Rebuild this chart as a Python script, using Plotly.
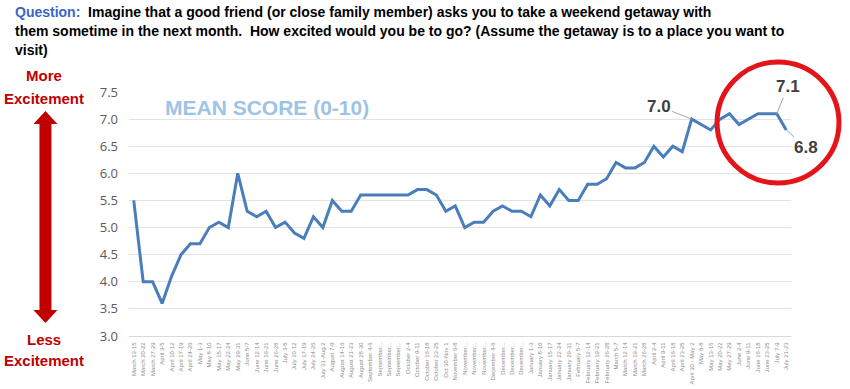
import plotly.graph_objects as go

weeks = ["March 13-15", "March 20-22", "March 27-29", "April 3-5", "April 10-12", "April 17-19",
         "April 24-26", "May 1-3", "May 8-10", "May 15-17", "May 22-24", "May 29-31", "June 5-7",
         "June 12-14", "June 19-21", "June 26-28", "July 3-5", "July 10-12", "July 17-19",
         "July 24-26", "July 31-Aug 2", "August 7-9", "August 14-16", "August 21-23",
         "August 28-30", "September 4-6", "September...", "September...", "September...",
         "October 2-4", "October 9-11", "October 16-18", "October 23-25", "Oct 30-Nov 1",
         "November 6-8", "November...", "November...", "November...", "December 4-6",
         "December...", "December...", "December...", "January 1-3", "January 8-10",
         "January 15-17", "January 22-24", "January 29-31", "February 5-7", "February 12-14",
         "February 19-21", "February 26-28", "March 5-7", "March 12-14", "March 19-21",
         "March 26-28", "April 2-4", "April 9-11", "April 16-18", "April 23-25",
         "April 30 - May 2", "May 6-8", "May 13-15", "May 20-22", "May 27-29", "June 2-4",
         "June 9-11", "June 16-18", "June 23-25", "July 7-9", "July 21-23"]

mean_score = [5.5, 4.0, 4.0, 3.6, 4.1, 4.5, 4.7, 4.7, 5.0, 5.1,
              5.0, 6.0, 5.3, 5.2, 5.3, 5.0, 5.1, 4.9, 4.8, 5.2,
              5.0, 5.5, 5.3, 5.3, 5.6, 5.6, 5.6, 5.6, 5.6, 5.6,
              5.7, 5.7, 5.6, 5.3, 5.4, 5.0, 5.1, 5.1, 5.3, 5.4,
              5.3, 5.3, 5.2, 5.6, 5.4, 5.7, 5.5, 5.5, 5.8, 5.8,
              5.9, 6.2, 6.1, 6.1, 6.2, 6.5, 6.3, 6.5, 6.4, 7.0,
              6.9, 6.8, 7.0, 7.1, 6.9, 7.0, 7.1, 7.1, 7.1, 6.8]

y_ticks = [3.0, 3.5, 4.0, 4.5, 5.0, 5.5, 6.0, 6.5, 7.0, 7.5]

# labelled points: (index, text offset x, text offset y in px)
labelled = [(59, -33, -13), (68, 11, -27), (69, 20, 18)]

W, H = 850, 389
L, R, T, B = 128.6, 59, 92, 53
PW, PH = W - L - R, H - T - B


def px(xp):
    return (xp - L) / PW


def py(yp):
    return (H - B - yp) / PH


x_idx = list(range(len(weeks)))

fig = go.Figure()
fig.add_trace(go.Scatter(
    x=x_idx, y=mean_score, mode="lines",
    line=dict(color="#4a7ebb", width=3),
    hoverinfo="skip", showlegend=False,
))

annotations = []
for i, ax, ay in labelled:
    annotations.append(dict(
        x=x_idx[i], y=mean_score[i], xref="x", yref="y",
        text=f"{mean_score[i]:.1f}", showarrow=True, arrowhead=0,
        arrowwidth=1, arrowcolor="#a6a6a6", ax=ax, ay=ay, standoff=0,
        font=dict(family="Liberation Sans", size=17, color="#404040", weight="bold"),
    ))

title_font = dict(family="Liberation Sans", size=14, color="#000000", weight="bold")
annotations += [
    dict(x=px(13), y=py(12), xref="paper", yref="paper", xanchor="left", yanchor="middle",
         showarrow=False, font=title_font,
         text="<span style='color:#3a66c4'>Question:</span>&nbsp; Imagine that a good friend (or close family member) asks you to take a weekend getaway with"),
    dict(x=px(13), y=py(31), xref="paper", yref="paper", xanchor="left", yanchor="middle",
         showarrow=False, font=title_font,
         text="them sometime in the next month.&nbsp; How excited would you be to go? (Assume the getaway is to a place you want to"),
    dict(x=px(13), y=py(50), xref="paper", yref="paper", xanchor="left", yanchor="middle",
         showarrow=False, font=title_font, text="visit)"),
    dict(x=px(163), y=py(108), xref="paper", yref="paper", xanchor="left", yanchor="middle",
         showarrow=False, text="MEAN SCORE (0-10)",
         font=dict(family="Liberation Sans", size=21, color="#9dc3e6", weight="bold")),
]
red_font = dict(family="Liberation Sans", size=15, color="#c00000", weight="bold")
for txt, yp in [("More", 76), ("Excitement", 98), ("Less", 339), ("Excitement", 360)]:
    annotations.append(dict(x=px(44), y=py(yp), xref="paper", yref="paper",
                            xanchor="center", yanchor="middle", showarrow=False,
                            text=txt, font=red_font))

# double-headed arrow (pixel geometry -> paper)
cx, top, bot, hh, hw, sw = 45, 111, 323, 13, 12, 6
pts = [(cx, top), (cx + hw, top + hh), (cx + sw, top + hh), (cx + sw, bot - hh),
       (cx + hw, bot - hh), (cx, bot), (cx - hw, bot - hh), (cx - sw, bot - hh),
       (cx - sw, top + hh), (cx - hw, top + hh)]
path = "M " + " L ".join(f"{px(a):.5f},{py(b):.5f}" for a, b in pts) + " Z"

shapes = [
    dict(type="path", path=path, xref="paper", yref="paper",
         fillcolor="#c00000", line=dict(width=0)),
    dict(type="circle", xref="paper", yref="paper",
         x0=px(717), x1=px(839), y0=py(183), y1=py(62),
         line=dict(color="#e3151a", width=5)),
]

fig.update_layout(
    width=W, height=H,
    margin=dict(l=L, r=R, t=T, b=B),
    paper_bgcolor="white", plot_bgcolor="white",
    font=dict(family="Liberation Sans"),
    annotations=annotations, shapes=shapes,
    xaxis=dict(
        range=[-0.5, len(weeks) - 0.5],
        tickmode="array", tickvals=x_idx, ticktext=weeks,
        tickangle=-90, tickfont=dict(size=6, color="#8c8c8c"),
        showgrid=False, zeroline=False,
        showline=True, linecolor="#d9d9d9", linewidth=1,
        ticks="", ticklabelstandoff=3, automargin=False,
    ),
    yaxis=dict(
        range=[3.0, 7.5], tickmode="array", tickvals=y_ticks,
        ticktext=[f"{v:.1f}" for v in y_ticks],
        tickfont=dict(family="Open Sans", size=13, color="#595959"),
        showgrid=True, gridcolor="#e3e3e3", gridwidth=1,
        zeroline=False, showline=False, ticks="", ticklabelstandoff=10, automargin=False,
    ),
)

fig.write_html("out.html", config={"displayModeBar": False},
               post_script="document.body.style.margin='0';")
